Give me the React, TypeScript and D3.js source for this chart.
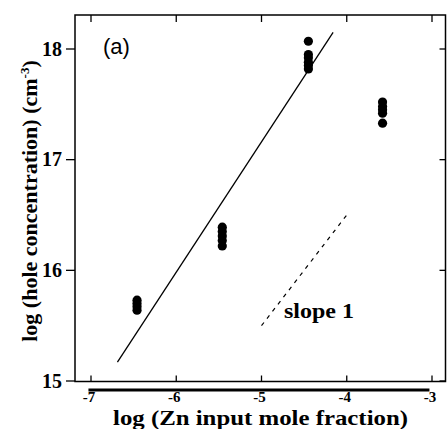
import React from "react";
import * as d3 from "d3";

// Data
const znGroup1 = [-6.46, -6.46, -6.46, -6.46];
const hole1 = [15.64, 15.67, 15.70, 15.73];
const znGroup2 = [-5.46, -5.46, -5.46, -5.46, -5.46];
const hole2 = [16.22, 16.27, 16.31, 16.35, 16.39];
const znGroup3 = [-4.45, -4.45, -4.45, -4.45, -4.45, -4.45];
const hole3 = [18.07, 17.95, 17.92, 17.88, 17.85, 17.82];
const znGroup4 = [-3.58, -3.58, -3.58, -3.58, -3.58];
const hole4 = [17.52, 17.48, 17.45, 17.42, 17.33];

const fitX = [-6.69, -4.16];
const fitY = [15.17, 18.15];
const slopeX = [-5, -4];
const slopeY = [15.5, 16.5];

const xTicks = [-7, -6, -5, -4, -3];
const yTicks = [15, 16, 17, 18];

const W = 447;
const H = 429;

export default function App() {
  const x = d3.scaleLinear().domain([-7, -3]).range([91, 432]);
  const y = d3.scaleLinear().domain([15, 18]).range([381, 49]);
  const left = 75;
  const right = 445.5;
  const top = y(18.307);
  const bottom = y(15) + 0.5;

  const pts: [number, number][] = [];
  [
    [znGroup1, hole1],
    [znGroup2, hole2],
    [znGroup3, hole3],
    [znGroup4, hole4],
  ].forEach(([xs, ys]) => xs.forEach((v, i) => pts.push([v, ys[i]])));

  const line = d3
    .line<number>()
    .x((_, i) => x(fitX[i]))
    .y((_, i) => y(fitY[i]));
  const sline = d3
    .line<number>()
    .x((_, i) => x(slopeX[i]))
    .y((_, i) => y(slopeY[i]));

  const serif = "'Liberation Serif', serif";

  return (
    <svg
      width={W}
      height={H}
      style={{ position: "absolute", left: 0, top: 0, background: "#fff" }}
    >
      {/* frame */}
      <path
        d={`M${left},${top}H${right}V${bottom}H${left}Z`}
        fill="none"
        stroke="#000"
        strokeWidth={1.5}
      />
      {/* thick bar under the axis */}
      <line
        x1={x(-7.03)}
        x2={x(-3.03)}
        y1={390}
        y2={390}
        stroke="#000"
        strokeWidth={3}
      />
      {/* x ticks */}
      {xTicks.map((t) => (
        <g key={"xt" + t}>
          <line x1={x(t)} x2={x(t)} y1={bottom} y2={bottom - 6} stroke="#000" strokeWidth={1.3} />
          <line x1={x(t)} x2={x(t)} y1={top} y2={top + 7} stroke="#000" strokeWidth={1.3} />
          <text
            x={x(t) - 2}
            y={402}
            textAnchor="middle"
            fontFamily={serif}
            fontWeight="bold"
            fontSize={15}
          >
            {"-" + Math.abs(t)}
          </text>
        </g>
      ))}
      {/* y ticks */}
      {yTicks.map((t) => (
        <g key={"yt" + t}>
          <line x1={left} x2={left - 9} y1={y(t)} y2={y(t)} stroke="#000" strokeWidth={1.3} />
          <line x1={right} x2={right - 6} y1={y(t)} y2={y(t)} stroke="#000" strokeWidth={1.3} />
          <text
            x={62}
            y={y(t) + 6.5}
            textAnchor="end"
            fontFamily={serif}
            fontWeight="bold"
            fontSize={20}
          >
            {t}
          </text>
        </g>
      ))}
      {/* fit line */}
      <path d={line(fitX) || ""} fill="none" stroke="#000" strokeWidth={1.3} />
      {/* slope 1 dashed */}
      <path
        d={sline(slopeX) || ""}
        fill="none"
        stroke="#000"
        strokeWidth={1.2}
        strokeDasharray="4,5"
      />
      {/* points */}
      {pts.map(([a, b], i) => (
        <circle key={i} cx={x(a)} cy={y(b)} r={4.6} fill="#000" />
      ))}
      {/* labels */}
      <text x={103} y={54} fontFamily="'Liberation Sans', Arial, sans-serif" fontSize={22} fontWeight={300}>
        (a)
      </text>
      <text
        x={284}
        y={318}
        fontFamily={serif}
        fontWeight="bold"
        fontSize={21}
        textLength={70}
        lengthAdjust="spacingAndGlyphs"
      >
        slope 1
      </text>
      <text
        x={260.5}
        y={425}
        textAnchor="middle"
        fontFamily={serif}
        fontWeight="bold"
        fontSize={21}
        textLength={295}
        lengthAdjust="spacingAndGlyphs"
      >
        log (Zn input mole fraction)
      </text>
      <text
        transform={`translate(37,${201}) rotate(-90)`}
        textAnchor="middle"
        fontFamily={serif}
        fontWeight="bold"
        fontSize={22}
      >
        log (hole concentration) (cm
        <tspan dy={-8} fontSize={13}>-3</tspan>
        <tspan dy={8}>)</tspan>
      </text>
    </svg>
  );
}
